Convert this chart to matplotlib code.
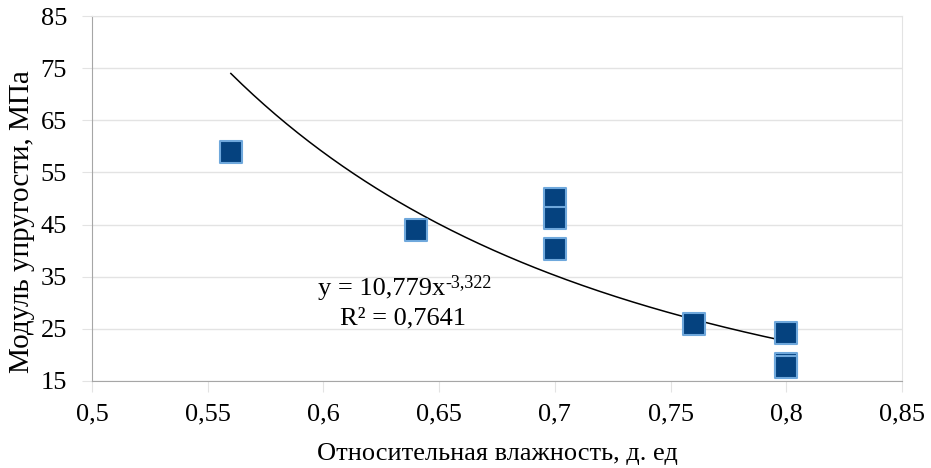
import numpy as np
import matplotlib
matplotlib.use('Agg')
import matplotlib.pyplot as plt

# measured points
humidity = [0.56, 0.64, 0.70, 0.70, 0.70, 0.76, 0.80, 0.80, 0.80]
modulus = [59.0, 44.0, 50.0, 46.3, 40.4, 25.9, 24.3, 18.3, 17.7]

# power trend line y = a * x^b (from the chart's label)
trend_a = 10.779
trend_b = -3.322
trend_range = (0.56, 0.80)

x_ticks = [0.5, 0.55, 0.6, 0.65, 0.7, 0.75, 0.8, 0.85]
y_ticks = [15, 25, 35, 45, 55, 65, 75, 85]

plt.rcParams['font.family'] = ['Liberation Serif', 'DejaVu Serif']

fig = plt.figure(figsize=(9.31, 4.68), dpi=100)
ax = fig.add_axes([0.0988, 0.1859, 0.9689 - 0.0988, 0.9658 - 0.1859])

grid_c = '#E3E3E3'
axis_c = '#A6A6A6'

ax.set_xlim(0.5, 0.85)
ax.set_ylim(15, 85)
ax.set_xticks(x_ticks)
ax.set_yticks(y_ticks)
ax.set_xticklabels([('%g' % v).replace('.', ',') for v in x_ticks])
ax.set_yticklabels([str(v) for v in y_ticks])
ax.yaxis.grid(True, color=grid_c, linewidth=1)
ax.set_axisbelow(True)

for s in ['top', 'right']:
    ax.spines[s].set_color(grid_c)
for s in ['left', 'bottom']:
    ax.spines[s].set_color(axis_c)
ax.tick_params(axis='x', direction='out', length=8, color=grid_c, labelsize=19, pad=8)
ax.tick_params(axis='y', direction='out', length=7, color=grid_c, labelsize=19, pad=11)

xs = np.linspace(trend_range[0], trend_range[1], 200)
ax.plot(xs, trend_a * xs ** trend_b, color='black', linewidth=1.1, zorder=2)

ax.scatter(humidity, modulus, marker='s', s=245, c='#05427F',
           edgecolors='#6FA8DC', linewidths=1.5, zorder=3)

eq = ax.text(0.5977, 32.6, 'y = 10,779x', ha='left', va='center', fontsize=19)
ax.annotate('-3,322', xy=(1, 0.78), xycoords=eq, ha='left', va='center', fontsize=13)
ax.text(0.6345, 27.0, 'R² = 0,7641', ha='center', va='center', fontsize=19)

ax.set_xlabel('Относительная влажность, д. ед', fontsize=19, labelpad=13)
ax.set_ylabel('Модуль упругости, МПа', fontsize=21)
ax.yaxis.set_label_coords(-0.070, 0.436)

fig.savefig('out.png', dpi=100)
